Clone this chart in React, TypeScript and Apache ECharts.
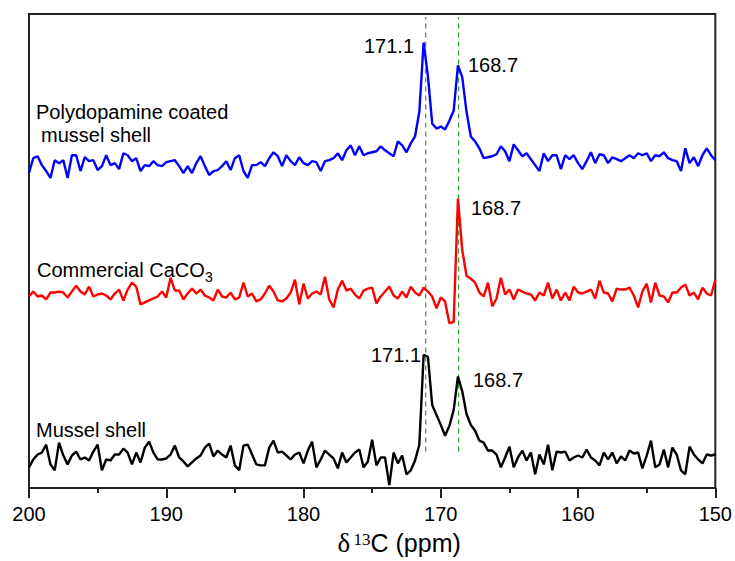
import React, { useEffect, useRef } from "react";
import * as echarts from "echarts";

// chemical shift sampling (ppm), evenly spaced from 200 downward
const X_START = 200;
const X_STEP = 0.3125;

// tick labels of the shift axis
const xTickValues = [150, 160, 170, 180, 190, 200];

// intensities (arbitrary units, baseline ~0)
const polydopamineShell = [
  -10, 5, 7, -2, -8, -15, 3, 0, 3, -15,
  8, 8, -8, 6, 2, 3, -7, -3, 8, -2,
  0, -6, 10, 8, 2, 5, -8, -2, -3, 2,
  -2, -3, 1, 2, 3, -3, -10, -3, -10, 0,
  7, -3, -12, -8, -7, -3, 2, -7, 5, 8,
  -8, -15, -2, -2, 1, -3, 5, 11, 7, -3,
  8, 2, -2, 6, 0, -2, 2, 1, -8, 2,
  3, 5, 10, 3, 13, 18, 8, 17, 8,
  10, 11, 12, 17, 13, 10, 7, 22, 18, 11, 20,
  27, 52, 122, 88, 40, 35, 37, 34, 43, 53,
  99, 87, 52, 27, 22, 15, 5, 6, 7, 9,
  17, 12, 2, 19, 13, 7, 10, 4, -2, -8,
  10, 2, 8, 8, -6, 8, 4, 8, 0, -6,
  2, 11, 0, 9, 8, 0, 6, 4, 2, 5,
  8, 5, 10, 8, 10, 2, 8, 7, 11, 5,
  3, 2, -8, 15, 0, 6, -3, 8, 15, 8, 3,
];

const commercialCaCO3 = [
  -2, 3, -2, -1, -5, 2, 2, 3, 2, -3,
  3, 9, 3, 0, 8, -2, 0, 1, -1, -5,
  1, 5, -6, 5, 12, 8, -10, -8, -6, -4,
  -2, 3, -3, 17, 4, 4, -5, 1, 6, 1,
  5, -1, -3, -6, 5, -2, -3, 2, -5, -3,
  12, -2, 1, -7, -5, 1, 9, 3, -6, -7,
  -4, 2, 15, -10, 11, -4, 1, 3, 0, 18,
  -5, -13, 5, 14, 4, 6, 0, -4, 4,
  6, 7, -9, -2, 3, 8, -1, -4, 3, -3, 8,
  2, -1, 7, 3, -2, -14, -3, -7, -29, -28,
  97, 45, 19, 16, 12, 2, -2, 12, -12, -4,
  17, 0, 5, -5, 5, 3, 1, 0, -6, 2,
  -1, 12, -4, 5, -6, 2, -6, 8, 2, 1,
  3, 5, -4, 14, 2, 1, -7, 6, 5, 5,
  7, -1, -13, 3, 11, -8, 12, -1, -2, -8,
  2, 2, 7, 10, -1, 2, -5, 7, 1, -1, 15,
];

const musselShell = [
  -10, -2, 3, 5, 13, -7, -13, 15, 2, -7,
  2, 6, -2, 0, -3, 6, 13, -13, -2, -3,
  3, 3, 9, 5, -7, 5, -5, 10, 16, 5,
  -2, -2, -1, 3, 12, 0, -4, -9, -5, -1,
  2, 10, 14, 1, 7, 3, 0, 12, -8, -13,
  12, 13, 3, -7, -8, -8, 10, 17, 5, 6,
  2, -2, 3, 5, -6, 7, 16, -10, -2, 7,
  3, -1, -11, 5, -5, 0, 5, 8, -10,
  -4, 18, -8, 0, 0, -28, 5, -6, 2, -17, -13,
  -3, 13, 104, 102, 53, 43, 33, 22, 32, 48,
  82, 67, 44, 33, 27, 17, 15, 7, 7, 3,
  -10, 0, 11, -10, 0, 7, -3, 5, -17, 3,
  -7, 13, -13, 6, 5, 6, -3, 0, 2, 0,
  8, 0, -3, -8, 5, -2, 5, -6, 1, -3,
  7, 4, 5, -11, 2, 17, -10, -7, 8, -10,
  10, 3, -13, -17, 11, 3, -2, -6, 3, 2, 3,
];

// vertical stacking offsets of each spectrum
const stackOffsets = [329, 196, 31];
const seriesNames = ["Polydopamine coated mussel shell", "Commercial CaCO3", "Mussel shell"];
const seriesColors = ["#0000ff", "#ff0000", "#000000"];

// reference peak positions (ppm) and vertical extent of the guide lines
const peakPositions = [171.1, 168.7];
const guideExtent = [37, 477];

const FONT = "'Liberation Sans', Arial, sans-serif";
const SERIF = "'Liberation Serif', 'DejaVu Serif', serif";

export default function App() {
  const ref = useRef<HTMLDivElement>(null);

  useEffect(() => {
    if (!ref.current) return;
    const chart = echarts.init(ref.current, undefined, { renderer: "svg" });

    const spectra = [polydopamineShell, commercialCaCO3, musselShell];
    const lineSeries = spectra.map((vals, k) => ({
      name: seriesNames[k],
      type: "line",
      symbol: "none",
      silent: true,
      z: 3,
      lineStyle: { color: seriesColors[k], width: 2.4 },
      data: vals.map((v, i) => [X_START - i * X_STEP, stackOffsets[k] + v]),
    }));

    const guideSeries = peakPositions.map((p) => ({
      type: "line",
      symbol: "none",
      silent: true,
      z: 2,
      lineStyle: { color: "#2f9a2f", width: 1.2, type: [5, 4] },
      data: [
        [p, guideExtent[0]],
        [p, guideExtent[1]],
      ],
    }));

    const txt = (text: string, x: number, y: number, size = 20) => ({
      type: "text",
      x,
      y,
      silent: true,
      style: {
        text,
        font: `${size}px ${FONT}`,
        fill: "#000",
        verticalAlign: "middle",
        align: "left",
      },
    });

    chart.setOption({
      animation: false,
      grid: {
        left: 29,
        right: 17.5,
        top: 14,
        bottom: 66.7,
        show: true,
        borderColor: "#222",
        borderWidth: 2,
      },
      xAxis: {
        type: "value",
        min: xTickValues[0],
        max: xTickValues[xTickValues.length - 1],
        interval: 10,
        inverse: true,
        axisLine: { show: true, lineStyle: { color: "#222", width: 2 } },
        axisTick: { show: true, length: 10, lineStyle: { color: "#222", width: 2 } },
        minorTick: { show: true, splitNumber: 2, length: 5, lineStyle: { color: "#222", width: 2 } },
        splitLine: { show: false },
        axisLabel: { fontSize: 20, color: "#000", fontFamily: FONT, margin: 16 },
        name: "{d|δ} {s|13}{c|C (ppm)}",
        nameLocation: "middle",
        nameGap: 26,
        nameTextStyle: {
          padding: [0, 0, 0, 54],
          rich: {
            d: { fontSize: 27, fontFamily: SERIF, color: "#000" },
            s: { fontSize: 17, fontFamily: SERIF, color: "#000", padding: [0, 0, 6, 0] },
            c: { fontSize: 25, fontFamily: FONT, color: "#000" },
          },
        },
      },
      yAxis: {
        type: "value",
        min: 0,
        max: 480,
        show: false,
      },
      series: [...guideSeries, ...lineSeries],
      graphic: [
        txt("171.1", 364, 46),
        txt("168.7", 468, 65),
        txt("Polydopamine coated", 36, 112),
        txt("mussel shell", 41, 135),
        txt("Commercial CaCO", 37, 270),
        txt("3", 205, 277, 14),
        txt("168.7", 471, 208),
        txt("Mussel shell", 36, 430),
        txt("171.1", 371, 355),
        txt("168.7", 473, 380),
      ],
    });

    return () => chart.dispose();
  }, []);

  return (
    <div
      ref={ref}
      style={{ position: "fixed", left: 0, top: 0, width: 735, height: 561, background: "#fff" }}
    />
  );
}
